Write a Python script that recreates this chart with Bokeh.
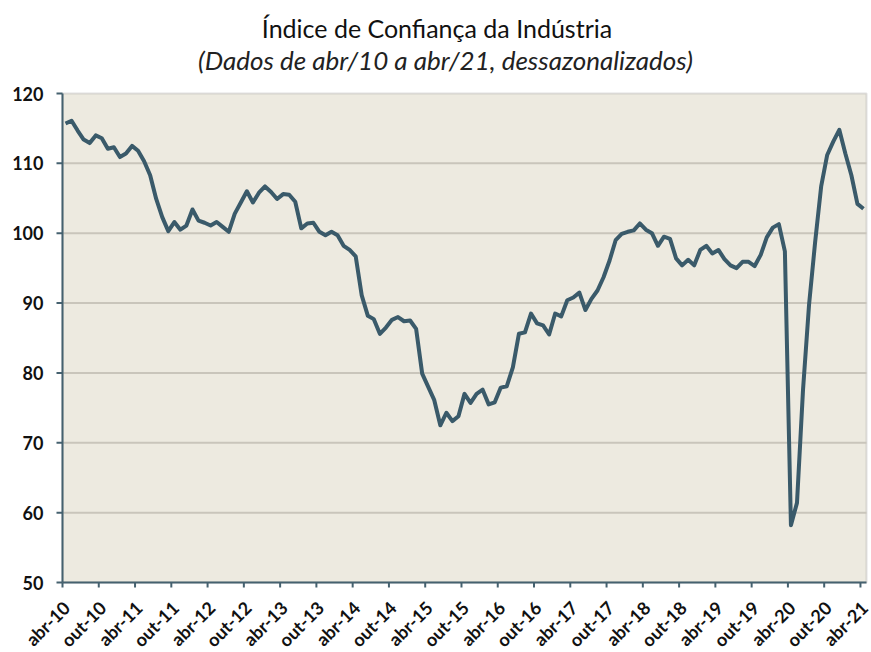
import math
from bokeh.plotting import figure
from bokeh.models import Range1d, BoxAnnotation
from bokeh.core.properties import value
from bokeh.embed import file_html
from bokeh.resources import INLINE

# Monthly index, abr/10 .. abr/21 (133 months), seasonally adjusted
ici_values = [
    115.7, 116.1, 114.7, 113.4, 112.9, 114.0, 113.6, 112.1, 112.3, 110.9, 111.4, 112.5,
    111.8, 110.3, 108.3, 104.9, 102.3, 100.3, 101.6, 100.5, 101.1, 103.4, 101.8, 101.5,
    101.1, 101.6, 100.9, 100.2, 102.8, 104.4, 106.0, 104.4, 105.8, 106.7, 105.9, 104.9,
    105.6, 105.5, 104.5, 100.7, 101.4, 101.5, 100.2, 99.7, 100.2, 99.7, 98.2, 97.6,
    96.7, 91.1, 88.2, 87.7, 85.6, 86.5, 87.6, 88.0, 87.4, 87.5, 86.3, 79.9,
    78.0, 76.1, 72.5, 74.3, 73.1, 73.8, 77.0, 75.7, 77.0, 77.6, 75.5, 75.8,
    77.9, 78.1, 80.8, 85.6, 85.8, 88.5, 87.1, 86.8, 85.5, 88.5, 88.1, 90.4,
    90.8, 91.5, 89.0, 90.6, 91.8, 93.7, 96.1, 99.0, 99.9, 100.2, 100.4, 101.4,
    100.5, 100.0, 98.2, 99.5, 99.2, 96.4, 95.4, 96.2, 95.4, 97.6, 98.2, 97.1,
    97.6, 96.3, 95.4, 95.0, 95.9, 95.9, 95.3, 96.9, 99.4, 100.8, 101.3, 97.4,
    58.2, 61.4, 77.6, 89.8, 98.7, 106.7, 111.2, 113.1, 114.8, 111.4, 108.3, 104.2,
    103.5,
]
month_index = list(range(len(ici_values)))

tick_labels = [
    "abr-10", "out-10", "abr-11", "out-11", "abr-12", "out-12", "abr-13", "out-13",
    "abr-14", "out-14", "abr-15", "out-15", "abr-16", "out-16", "abr-17", "out-17",
    "abr-18", "out-18", "abr-19", "out-19", "abr-20", "out-20", "abr-21",
]
tick_step = 6
y_ticks = [50, 60, 70, 80, 90, 100, 110, 120]
y_min, y_max = 50, 120

title_text = "Índice de Confiança da Indústria"
subtitle_text = "(Dados de abr/10 a abr/21, dessazonalizados)"

FONT = "Lato"
LINE_COLOR = "#3a5a6a"
AXIS_COLOR = "#45616f"
BG = "#edeae0"
TXT = "#111111"

# ---- layout (pixels) ----
W, H = 871, 652
LEFT, RIGHT = 62, 866          # plot area horizontal extent
TOP, BOTTOM = 93, 582          # plot area vertical extent (120 .. 50)
n = len(ici_values)
x0, x1 = -0.5, n - 0.5
ppx = (RIGHT - LEFT) / (x1 - x0)
ppy = (BOTTOM - TOP) / (y_max - y_min)


def xpx(px):
    return x0 + (px - LEFT) / ppx


def ypx(py):
    return y_max - (py - TOP) / ppy


p = figure(
    width=W, height=H, output_backend="svg", toolbar_location=None,
    x_range=Range1d(xpx(0), xpx(W)), y_range=Range1d(ypx(H), ypx(0)),
    min_border_left=0, min_border_right=0, min_border_top=0, min_border_bottom=0,
    x_axis_location=None, y_axis_location=None,
    background_fill_color="white", border_fill_color="white",
    outline_line_color=None,
)
p.title = None
p.xgrid.visible = False
p.ygrid.visible = False

# plot area background + top/right border
p.add_layout(BoxAnnotation(left=x0, right=x1, bottom=y_min, top=y_max,
                           fill_color=BG, fill_alpha=1.0,
                           line_color="#9a9a9a", line_width=2, level="image"))

# horizontal grid lines
grid_vals = [t for t in y_ticks if y_min < t < y_max]
p.segment(x0=[x0] * len(grid_vals), y0=grid_vals, x1=[x1] * len(grid_vals), y1=grid_vals,
          line_color="#c9c5bb", line_width=2)

# y axis: ticks + labels
p.segment(x0=[xpx(LEFT - 6)] * len(y_ticks), y0=y_ticks, x1=[x0] * len(y_ticks), y1=y_ticks,
          line_color=AXIS_COLOR, line_width=2)
p.text(x=[xpx(LEFT - 19)] * len(y_ticks), y=y_ticks, text=[str(t) for t in y_ticks],
       text_align="right", text_baseline="middle",
       text_font=value(FONT), text_font_style="bold", text_font_size="18px",
       text_color=TXT)

# x ticks and rotated labels
tick_pos = [k * tick_step - 0.5 for k in range(len(tick_labels))]
tick_len = 5 / ppy
p.segment(x0=tick_pos, y0=[y_min] * len(tick_pos), x1=tick_pos,
          y1=[y_min - tick_len] * len(tick_pos), line_color=AXIS_COLOR, line_width=2)
p.text(x=tick_pos, y=[y_min] * len(tick_pos), text=tick_labels,
       angle=45, angle_units="deg", text_align="right", text_baseline="middle",
       x_offset=4, y_offset=22,
       text_font=value(FONT), text_font_style="bold", text_font_size="18px",
       text_color=TXT)

# axis lines
p.segment(x0=[x0, x0], y0=[y_min, y_min], x1=[x0, x1], y1=[y_max, y_min],
          line_color=AXIS_COLOR, line_width=2)

# series
p.line(month_index, ici_values, line_width=4, line_color=LINE_COLOR, line_join="round")

# titles
p.text(x=[xpx(436.5)], y=[ypx(27)], text=[title_text], text_align="center",
       text_baseline="middle", text_font=value(FONT), text_font_size="25px",
       text_color=TXT)
p.text(x=[xpx(445)], y=[ypx(59)], text=[subtitle_text], text_align="center",
       text_baseline="middle", text_font=value(FONT), text_font_size="26px",
       text_font_style="italic", text_color="#222222")

open("out.html", "w").write(file_html(p, INLINE))
